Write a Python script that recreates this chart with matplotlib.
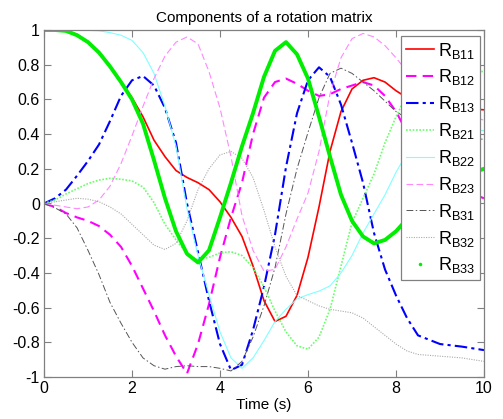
import matplotlib
matplotlib.use("Agg")
import matplotlib.pyplot as plt
from matplotlib.lines import Line2D

plt.rcParams["font.family"] = ["Liberation Sans", "DejaVu Sans"]
plt.rcParams["mathtext.default"] = "regular"

# time samples (s)
t = [0.0, 0.25, 0.5, 0.75, 1.0, 1.25, 1.5, 1.75, 2.0, 2.25, 2.5, 2.75,
     3.0, 3.25, 3.5, 3.75, 4.0, 4.25, 4.5, 4.75, 5.0, 5.25, 5.5, 5.75,
     6.0, 6.25, 6.5, 6.75, 7.0, 7.25, 7.5, 7.75, 8.0, 8.25, 8.5, 9.0, 9.5, 10.0]

r11 = [1.0, 1.0, 0.995, 0.975, 0.93, 0.87, 0.79, 0.70, 0.61, 0.50, 0.365, 0.27,
       0.19, 0.15, 0.12, 0.08, 0.01, -0.08, -0.19, -0.36, -0.56, -0.68, -0.65, -0.53,
       -0.31, -0.02, 0.30, 0.53, 0.66, 0.71, 0.725, 0.70, 0.65, 0.61, 0.59, 0.56, 0.55, 0.54]
r12 = [0.0, -0.02, -0.055, -0.08, -0.10, -0.13, -0.18, -0.25, -0.36, -0.49, -0.62, -0.76,
       -0.88, -0.98, -0.81, -0.58, -0.31, -0.08, 0.12, 0.40, 0.61, 0.70, 0.72, 0.69,
       0.65, 0.62, 0.63, 0.66, 0.68, 0.70, 0.68, 0.62, 0.53, 0.41, 0.31, 0.17, 0.08, 0.03]
r13 = [0.0, 0.03, 0.08, 0.16, 0.245, 0.34, 0.475, 0.62, 0.71, 0.735, 0.68, 0.55,
       0.35, 0.0, -0.28, -0.56, -0.81, -0.96, -0.93, -0.73, -0.48, -0.18, 0.21, 0.52,
       0.71, 0.785, 0.73, 0.57, 0.35, 0.12, -0.17, -0.38, -0.53, -0.66, -0.76, -0.81, -0.825, -0.845]
r21 = [0.0, 0.02, 0.055, 0.085, 0.115, 0.135, 0.145, 0.14, 0.13, 0.095, 0.005, -0.12,
       -0.21, -0.29, -0.325, -0.31, -0.285, -0.278, -0.30, -0.37, -0.48, -0.62, -0.74, -0.82,
       -0.84, -0.77, -0.61, -0.36, -0.11, 0.03, 0.17, 0.35, 0.50, 0.63, 0.70, 0.76, 0.77, 0.76]
r22 = [1.0, 1.0, 1.0, 1.0, 0.998, 0.995, 0.985, 0.97, 0.94, 0.87, 0.75, 0.56,
       0.33, -0.03, -0.30, -0.525, -0.74, -0.89, -0.95, -0.89, -0.79, -0.68, -0.61, -0.55,
       -0.525, -0.505, -0.475, -0.40, -0.30, -0.17, -0.06, 0.05, 0.18, 0.29, 0.36, 0.42, 0.43, 0.42]
r23 = [0.0, -0.01, -0.02, -0.03, -0.02, 0.02, 0.10, 0.23, 0.39, 0.56, 0.72, 0.85,
       0.93, 0.96, 0.92, 0.76, 0.55, 0.27, -0.07, -0.27, -0.39, -0.38, -0.25, -0.09,
       0.06, 0.30, 0.63, 0.84, 0.95, 0.98, 0.96, 0.91, 0.84, 0.76, 0.69, 0.59, 0.52, 0.48]
r31 = [0.0, -0.025, -0.06, -0.14, -0.27, -0.41, -0.57, -0.69, -0.80, -0.89, -0.935, -0.955,
       -0.94, -0.935, -0.94, -0.94, -0.95, -0.965, -0.91, -0.77, -0.59, -0.37, -0.06, 0.20,
       0.41, 0.61, 0.75, 0.78, 0.75, 0.70, 0.65, 0.59, 0.53, 0.49, 0.45, 0.40, 0.38, 0.37]
r32 = [0.0, 0.01, 0.02, 0.03, 0.025, 0.01, -0.02, -0.06, -0.12, -0.18, -0.24, -0.265,
       -0.23, -0.10, 0.08, 0.20, 0.28, 0.30, 0.26, 0.15, -0.04, -0.25, -0.42, -0.53,
       -0.56, -0.59, -0.61, -0.62, -0.63, -0.66, -0.71, -0.76, -0.81, -0.85, -0.87, -0.88, -0.89, -0.91]
r33 = [1.0, 1.0, 0.995, 0.97, 0.93, 0.87, 0.79, 0.70, 0.60, 0.46, 0.25, 0.03,
       -0.16, -0.29, -0.34, -0.27, -0.08, 0.12, 0.33, 0.52, 0.73, 0.88, 0.93, 0.86,
       0.72, 0.50, 0.27, 0.05, -0.10, -0.19, -0.23, -0.21, -0.16, -0.09, -0.02, 0.08, 0.16, 0.20]

labels = ["B11", "B12", "B13", "B21", "B22", "B23", "B31", "B32", "B33"]

fig = plt.figure(figsize=(5.03, 4.19), dpi=100)
ax = fig.add_axes([44 / 503, 42 / 419, 440 / 503, 347 / 419])

ax.plot(t, r11, color="red", lw=1.2, ls="-")
ax.plot(t, r12, color="magenta", lw=1.5, ls=(0, (5, 3)))
ax.plot(t, r13, color="blue", lw=1.5, ls=(0, (6, 2, 1.5, 2)))
ax.plot(t, r21, color="#66ff66", lw=1.2, ls=(0, (1, 1)))
ax.plot(t, r22, color="#80ffff", lw=0.8, ls="-")
ax.plot(t, r23, color="#ff88ff", lw=0.8, ls=(0, (6, 3)))
ax.plot(t, r31, color="#555555", lw=0.7, ls=(0, (7, 2.5, 1.5, 2.5)))
ax.plot(t, r32, color="#aaaaaa", lw=0.8, ls=(0, (1, 1.2)))
ax.plot(t, r33, color="#00ee00", lw=2.8, ls="-")

ax.set_xlim(0, 10)
ax.set_ylim(-1, 1)
ax.set_xticks([0, 2, 4, 6, 8, 10])
ax.set_yticks([-1, -0.8, -0.6, -0.4, -0.2, 0, 0.2, 0.4, 0.6, 0.8, 1])
ax.set_yticklabels(["-1", "-0.8", "-0.6", "-0.4", "-0.2", "0", "0.2", "0.4", "0.6", "0.8", "1"])
ax.tick_params(direction="in", top=True, right=True, length=5, width=0.8,
               color="#808080", labelsize=11.5, pad=3)
for s in ax.spines.values():
    s.set_color("#808080")
    s.set_linewidth(0.9)

ax.set_title("Components of a rotation matrix", fontsize=11, pad=6)
ax.set_xlabel("Time (s)", fontsize=11, labelpad=1)

handles = list(ax.get_lines())
handles[8] = Line2D([], [], color="#00ee00", ls="none", marker=".", markersize=3)
leg = ax.legend(handles, [r"$R_{%s}$" % s for s in labels],
                loc="upper right", bbox_to_anchor=(0.9905, 0.983),
                bbox_transform=ax.transAxes, borderaxespad=0,
                fontsize=13, handlelength=1.6, handletextpad=0.2,
                labelspacing=0.38, borderpad=0.26, fancybox=False,
                framealpha=1, edgecolor="#808080")
leg.get_frame().set_linewidth(0.9)

fig.savefig("out.png", dpi=100)
